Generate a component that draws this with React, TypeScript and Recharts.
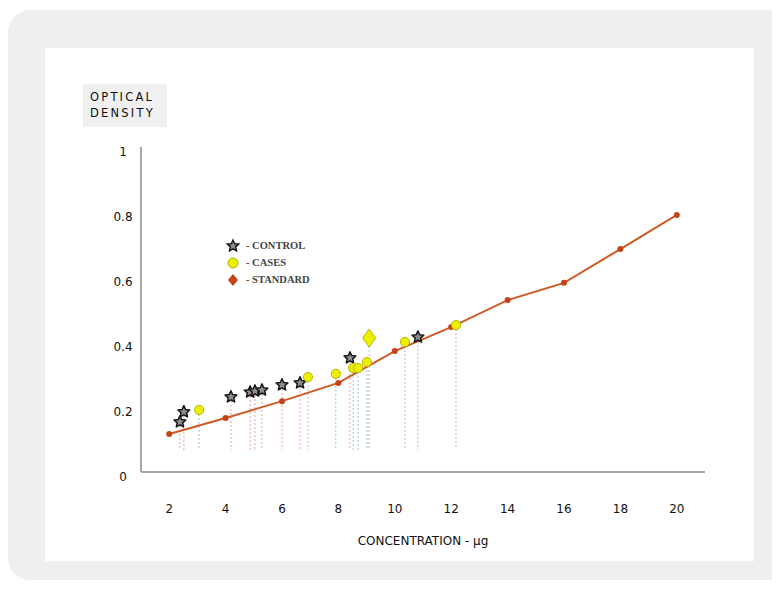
import {
  ComposedChart,
  Line,
  Scatter,
  XAxis,
  YAxis,
  ReferenceLine,
} from "recharts";

// values
const standardX = [2, 4, 6, 8, 10, 12, 14, 16, 18, 20];
const standardY = [0.117, 0.166, 0.218, 0.274, 0.372, 0.446, 0.529, 0.582, 0.686, 0.791];

const controlX = [2.38, 2.52, 4.19, 4.87, 5.04, 5.29, 6.0, 6.64, 8.41, 10.82];
const controlY = [0.154, 0.185, 0.231, 0.246, 0.249, 0.252, 0.268, 0.274, 0.351, 0.415];

const casesX = [3.06, 6.92, 7.91, 8.52, 8.7, 9.01, 10.36, 12.17];
const casesY = [0.191, 0.292, 0.302, 0.32, 0.32, 0.338, 0.4, 0.452];

// the one big diamond among the cases
const casesBigX = [9.09];
const casesBigY = [0.412];

const xTicks = [2, 4, 6, 8, 10, 12, 14, 16, 18, 20];
const yTicks = [0, 0.2, 0.4, 0.6, 0.8, 1];
const dropTo = 0.068;

const zip = (xs: number[], ys: number[]) => xs.map((x, i) => ({ x, y: ys[i] }));

const standard = zip(standardX, standardY);
const control = zip(controlX, controlY);
const cases = zip(casesX, casesY);
const casesBig = zip(casesBigX, casesBigY);

const FONT = "'DejaVu Sans', sans-serif";

function starPath(cx: number, cy: number, ro: number, ri: number) {
  const pts: string[] = [];
  for (let i = 0; i < 10; i++) {
    const r = i % 2 === 0 ? ro : ri;
    const a = -Math.PI / 2 + (i * Math.PI) / 5;
    pts.push(`${cx + r * Math.cos(a)},${cy + r * Math.sin(a)}`);
  }
  return pts.join(" ");
}

const Star = (p: any) => (
  <polygon
    points={starPath(p.cx, p.cy, 6.2, 2.9)}
    fill="#8c8c8c"
    stroke="#161616"
    strokeWidth={1.5}
    strokeLinejoin="round"
  />
);

const CaseDot = (p: any) => (
  <circle cx={p.cx} cy={p.cy} r={4.6} fill="#ecf000" stroke="#b4b600" strokeWidth={1} />
);

const CaseBig = (p: any) => (
  <path
    d={`M${p.cx},${p.cy - 9} Q${p.cx + 3},${p.cy - 5} ${p.cx + 6.5},${p.cy} Q${p.cx + 3},${p.cy + 5} ${p.cx},${p.cy + 9} Q${p.cx - 3},${p.cy + 5} ${p.cx - 6.5},${p.cy} Q${p.cx - 3},${p.cy - 5} ${p.cx},${p.cy - 9} Z`}
    fill="#ecf000"
    stroke="#b4b600"
    strokeWidth={1}
  />
);

const StdDot = (p: any) => <circle cx={p.cx} cy={p.cy} r={3} fill="#c4441a" />;

const YTick = (p: any) => (
  <text
    x={p.x - 18}
    y={p.y + 5}
    textAnchor="middle"
    dominantBaseline="middle"
    fontFamily={FONT}
    fontSize={12}
    fill="#111"
  >
    {p.payload.value}
  </text>
);

function LegendBox() {
  const row = { display: "flex", alignItems: "center", height: 17 };
  const txt = {
    fontFamily: "'Liberation Serif', serif",
    fontWeight: 700,
    fontSize: 10.5,
    color: "#444",
    marginLeft: 5,
  };
  return (
    <div style={{ position: "absolute", left: 217, top: 229 }}>
      <div style={row}>
        <svg width={16} height={16}>
          <polygon points={starPath(8, 8, 6, 2.8)} fill="#8c8c8c" stroke="#161616" strokeWidth={1.4} />
        </svg>
        <span style={txt}>- CONTROL</span>
      </div>
      <div style={row}>
        <svg width={16} height={16}>
          <circle cx={8} cy={8} r={5} fill="#ecf000" stroke="#b4b600" />
        </svg>
        <span style={txt}>- CASES</span>
      </div>
      <div style={row}>
        <svg width={16} height={16}>
          <path d="M8,2 L13,8 L8,14 L3,8 Z" fill="#c4441a" />
        </svg>
        <span style={txt}>- STANDARD</span>
      </div>
    </div>
  );
}

export default function App() {
  return (
    <div style={{ position: "relative", width: 772, height: 575, overflow: "hidden" }}>
      <div
        style={{
          position: "absolute",
          left: 0,
          top: 2,
          width: 800,
          height: 570,
          background: "#efefef",
          borderRadius: 22,
        }}
      />
      <div
        style={{
          position: "absolute",
          left: 37,
          top: 40,
          width: 709,
          height: 513,
          background: "#fff",
        }}
      >
        <div
          style={{
            position: "absolute",
            left: 38,
            top: 36,
            width: 84,
            height: 43,
            background: "#f0f0f0",
            fontFamily: FONT,
            fontSize: 11.5,
            letterSpacing: 2.2,
            lineHeight: "16px",
            color: "#111",
            paddingLeft: 7,
            paddingTop: 5,
            boxSizing: "border-box",
          }}
        >
          OPTICAL
          <br />
          DENSITY
        </div>
        <ComposedChart
          width={709}
          height={513}
          margin={{ top: 99, right: 49, bottom: 14, left: 56 }}
        >
          <XAxis
            type="number"
            dataKey="x"
            domain={[1, 21]}
            ticks={xTicks}
            allowDataOverflow
            tickSize={0}
            tickMargin={32}
            height={75}
            axisLine={{ stroke: "#a8a8a8", strokeWidth: 2 }}
            tick={{ fontFamily: FONT, fontSize: 12, fill: "#111" }}
            label={{
              value: "CONCENTRATION - µg",
              position: "insideBottom",
              offset: 2,
              fontFamily: FONT,
              fontSize: 12,
              fill: "#111",
            }}
          />
          <YAxis
            type="number"
            dataKey="y"
            domain={[0, 1]}
            ticks={yTicks}
            width={40}
            tickSize={0}
            tickMargin={0}
            axisLine={{ stroke: "#a8a8a8", strokeWidth: 2 }}
            tick={<YTick />}
          />
          {control.map((d, i) => (
            <ReferenceLine
              key={`c${i}`}
              segment={[{ x: d.x, y: d.y }, { x: d.x, y: dropTo }]}
              stroke="#e8a0a0"
              strokeDasharray="2 2"
              strokeWidth={1}
            />
          ))}
          {[...cases, ...casesBig].map((d, i) => (
            <ReferenceLine
              key={`k${i}`}
              segment={[{ x: d.x, y: d.y }, { x: d.x, y: dropTo }]}
              stroke="#a2bfdc"
              strokeDasharray="2 2"
              strokeWidth={1}
            />
          ))}
          <Line
            data={standard}
            dataKey="y"
            stroke="#cf5a25"
            strokeWidth={2}
            dot={<StdDot />}
            activeDot={false}
            isAnimationActive={false}
          />
          <Scatter data={control} shape={<Star />} isAnimationActive={false} />
          <Scatter data={cases} shape={<CaseDot />} isAnimationActive={false} />
          <Scatter data={casesBig} shape={<CaseBig />} isAnimationActive={false} />
        </ComposedChart>
      </div>
      <LegendBox />
    </div>
  );
}
